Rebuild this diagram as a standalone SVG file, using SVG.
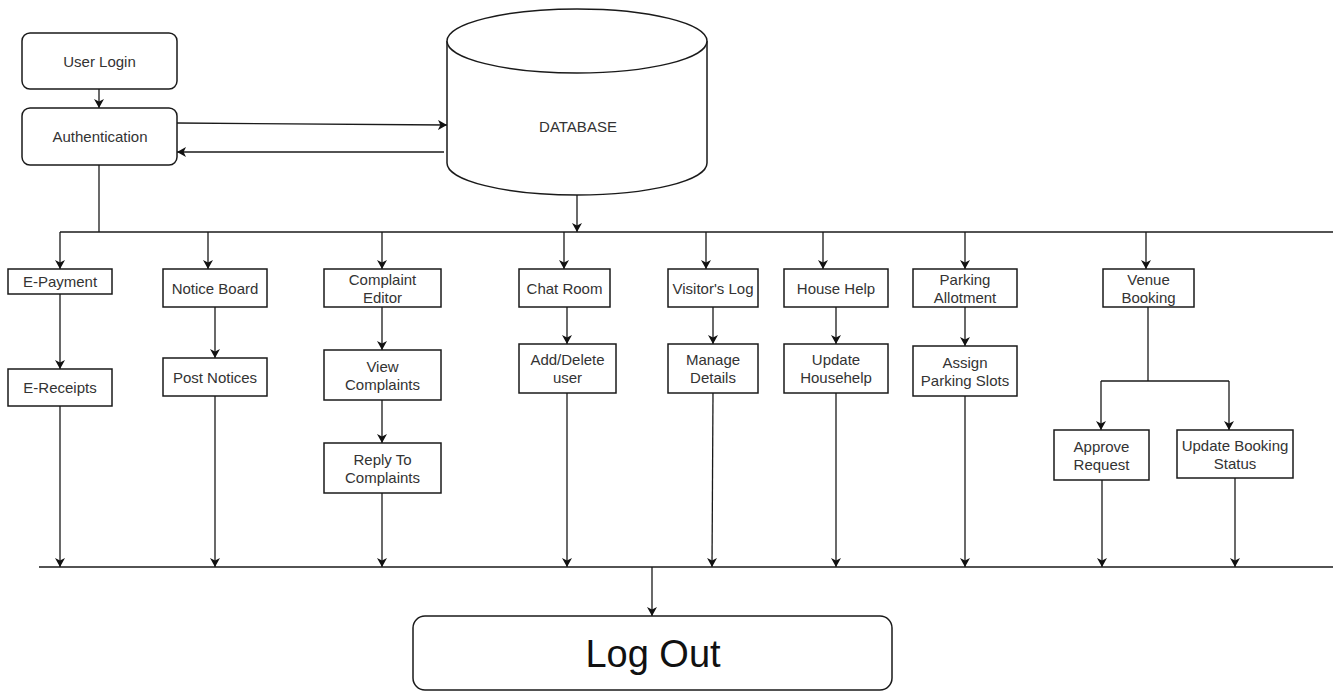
<svg xmlns="http://www.w3.org/2000/svg" width="1333" height="691" viewBox="0 0 1333 691">
  <style>
    .box { fill: #ffffff; stroke: #1a1a1a; stroke-width: 1.5; }
    .lbl { font-family: "Liberation Sans", Arial, sans-serif; font-size: 15px; fill: #333333; text-anchor: middle; }
    .big { font-family: "Liberation Sans", Arial, sans-serif; font-size: 38px; fill: #111111; text-anchor: middle; }
    .wire { fill: none; stroke: #1a1a1a; stroke-width: 1.3; }
    .arr { fill: none; stroke: #1a1a1a; stroke-width: 1.3; marker-end: url(#head); }
  </style>
  <defs>
    <marker id="head" markerUnits="userSpaceOnUse" markerWidth="11" markerHeight="11" refX="9" refY="5" orient="auto">
      <path d="M0,0 L9,5 L0,10 L2.4,5 Z" fill="#111111"/>
    </marker>
  </defs>
  <rect width="1333" height="691" fill="#ffffff"/>

  <!-- connectors -->
  <g id="connectors">
    <!-- login / auth / database -->
    <line class="arr" x1="99" y1="89" x2="99" y2="108"/>
    <line class="arr" x1="177" y1="123" x2="447" y2="125"/>
    <line class="arr" x1="444" y1="152" x2="177" y2="152"/>
    <line class="wire" x1="99" y1="165" x2="99" y2="232"/>
    <line class="arr" x1="577" y1="195" x2="577" y2="232"/>
    <!-- upper bus -->
    <line class="wire" x1="60" y1="232" x2="1333" y2="232"/>
    <line class="arr" x1="60" y1="232" x2="60" y2="269"/>
    <line class="arr" x1="208" y1="232" x2="208" y2="269"/>
    <line class="arr" x1="382" y1="232" x2="382" y2="269"/>
    <line class="arr" x1="564" y1="232" x2="564" y2="269"/>
    <line class="arr" x1="706" y1="232" x2="706" y2="269"/>
    <line class="arr" x1="823" y1="232" x2="823" y2="269"/>
    <line class="arr" x1="965" y1="232" x2="965" y2="269"/>
    <line class="arr" x1="1146" y1="232" x2="1146" y2="269"/>
    <!-- second level -->
    <line class="arr" x1="60" y1="294" x2="60" y2="369"/>
    <line class="arr" x1="215" y1="307" x2="215" y2="358"/>
    <line class="arr" x1="382" y1="307" x2="382" y2="350"/>
    <line class="arr" x1="382" y1="400" x2="382" y2="443"/>
    <line class="arr" x1="567" y1="307" x2="567" y2="344"/>
    <line class="arr" x1="713" y1="307" x2="713" y2="344"/>
    <line class="arr" x1="836" y1="307" x2="836" y2="344"/>
    <line class="arr" x1="965" y1="307" x2="965" y2="346"/>
    <!-- venue booking split -->
    <polyline class="wire" points="1148,307 1148,381"/>
    <line class="wire" x1="1101" y1="381" x2="1229" y2="381"/>
    <line class="arr" x1="1101" y1="381" x2="1101" y2="430"/>
    <line class="arr" x1="1229" y1="381" x2="1229" y2="430"/>
    <!-- drops to lower bus -->
    <line class="arr" x1="60" y1="406" x2="60" y2="567"/>
    <line class="arr" x1="215" y1="396" x2="215" y2="567"/>
    <line class="arr" x1="382" y1="493" x2="382" y2="567"/>
    <line class="arr" x1="567" y1="393" x2="567" y2="567"/>
    <line class="arr" x1="713" y1="393" x2="712" y2="567"/>
    <line class="arr" x1="836" y1="393" x2="836" y2="567"/>
    <line class="arr" x1="965" y1="396" x2="965" y2="567"/>
    <line class="arr" x1="1102" y1="480" x2="1102" y2="567"/>
    <line class="arr" x1="1235" y1="478" x2="1235" y2="567"/>
    <!-- lower bus -->
    <line class="wire" x1="39" y1="567" x2="1333" y2="567"/>
    <line class="arr" x1="652" y1="567" x2="652" y2="616"/>
  </g>

  <!-- nodes -->
  <g id="user-login">
    <rect class="box" x="22" y="33" width="155" height="56" rx="8"/>
    <text class="lbl" x="99.5" y="66.5">User Login</text>
  </g>
  <g id="authentication">
    <rect class="box" x="22" y="108" width="155" height="57" rx="8"/>
    <text class="lbl" x="100" y="142">Authentication</text>
  </g>
  <g id="database">
    <path class="box" d="M447,41 A130,32 0 0,1 707,41 L707,163 A130,32 0 0,1 447,163 Z"/>
    <path class="box" fill="none" d="M447,41 A130,32 0 0,0 707,41"/>
    <text class="lbl" x="578" y="132">DATABASE</text>
  </g>

  <g id="e-payment">
    <rect class="box" x="8" y="269" width="104" height="25"/>
    <text class="lbl" x="60" y="287">E-Payment</text>
  </g>
  <g id="e-receipts">
    <rect class="box" x="8" y="369" width="104" height="37"/>
    <text class="lbl" x="60" y="393">E-Receipts</text>
  </g>

  <g id="notice-board">
    <rect class="box" x="163" y="269" width="104" height="38"/>
    <text class="lbl" x="215" y="293.5">Notice Board</text>
  </g>
  <g id="post-notices">
    <rect class="box" x="163" y="358" width="104" height="38"/>
    <text class="lbl" x="215" y="382.5">Post Notices</text>
  </g>

  <g id="complaint-editor">
    <rect class="box" x="324" y="269" width="117" height="38"/>
    <text class="lbl" x="382.5" y="284.5">Complaint</text>
    <text class="lbl" x="382.5" y="302.5">Editor</text>
  </g>
  <g id="view-complaints">
    <rect class="box" x="324" y="350" width="117" height="50"/>
    <text class="lbl" x="382.5" y="371.5">View</text>
    <text class="lbl" x="382.5" y="389.5">Complaints</text>
  </g>
  <g id="reply-complaints">
    <rect class="box" x="324" y="443" width="117" height="50"/>
    <text class="lbl" x="382.5" y="464.5">Reply To</text>
    <text class="lbl" x="382.5" y="482.5">Complaints</text>
  </g>

  <g id="chat-room">
    <rect class="box" x="519" y="269" width="91" height="38"/>
    <text class="lbl" x="564.5" y="293.5">Chat Room</text>
  </g>
  <g id="add-delete-user">
    <rect class="box" x="519" y="344" width="97" height="49"/>
    <text class="lbl" x="567.5" y="365">Add/Delete</text>
    <text class="lbl" x="567.5" y="383">user</text>
  </g>

  <g id="visitors-log">
    <rect class="box" x="668" y="269" width="90" height="38"/>
    <text class="lbl" x="713" y="293.5">Visitor's Log</text>
  </g>
  <g id="manage-details">
    <rect class="box" x="668" y="344" width="90" height="49"/>
    <text class="lbl" x="713" y="365">Manage</text>
    <text class="lbl" x="713" y="383">Details</text>
  </g>

  <g id="house-help">
    <rect class="box" x="784" y="269" width="104" height="38"/>
    <text class="lbl" x="836" y="293.5">House Help</text>
  </g>
  <g id="update-househelp">
    <rect class="box" x="784" y="344" width="104" height="49"/>
    <text class="lbl" x="836" y="365">Update</text>
    <text class="lbl" x="836" y="383">Househelp</text>
  </g>

  <g id="parking-allotment">
    <rect class="box" x="913" y="269" width="104" height="38"/>
    <text class="lbl" x="965" y="284.5">Parking</text>
    <text class="lbl" x="965" y="302.5">Allotment</text>
  </g>
  <g id="assign-parking">
    <rect class="box" x="913" y="346" width="104" height="50"/>
    <text class="lbl" x="965" y="367.5">Assign</text>
    <text class="lbl" x="965" y="385.5">Parking Slots</text>
  </g>

  <g id="venue-booking">
    <rect class="box" x="1103" y="269" width="91" height="38"/>
    <text class="lbl" x="1148.5" y="284.5">Venue</text>
    <text class="lbl" x="1148.5" y="302.5">Booking</text>
  </g>
  <g id="approve-request">
    <rect class="box" x="1054" y="430" width="95" height="50"/>
    <text class="lbl" x="1101.5" y="451.5">Approve</text>
    <text class="lbl" x="1101.5" y="469.5">Request</text>
  </g>
  <g id="update-booking">
    <rect class="box" x="1177" y="430" width="116" height="48"/>
    <text class="lbl" x="1235" y="450.5">Update Booking</text>
    <text class="lbl" x="1235" y="468.5">Status</text>
  </g>

  <g id="log-out">
    <rect class="box" x="413" y="616" width="479" height="74" rx="12"/>
    <text class="big" x="653" y="666.5">Log Out</text>
  </g>
</svg>
